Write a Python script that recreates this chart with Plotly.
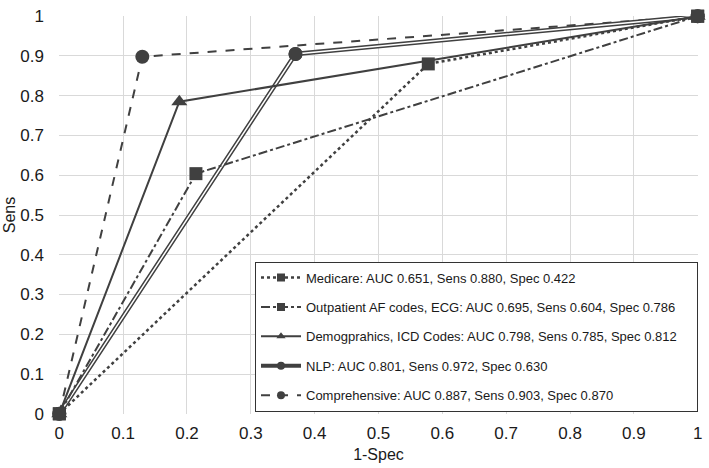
import plotly.graph_objects as go

# Data (1-Spec, Sens)
names = [
    "Medicare: AUC 0.651, Sens 0.880, Spec 0.422",
    "Outpatient AF codes, ECG: AUC 0.695, Sens 0.604, Spec 0.786",
    "Demogprahics, ICD Codes: AUC 0.798, Sens 0.785, Spec 0.812",
    "NLP: AUC 0.801, Sens 0.972, Spec 0.630",
    "Comprehensive: AUC 0.887, Sens 0.903, Spec 0.870",
]
medicare_x = [0, 0.578, 1]
medicare_y = [0, 0.880, 1]
outpt_x = [0, 0.214, 1]
outpt_y = [0, 0.604, 1]
demo_x = [0, 0.188, 1]
demo_y = [0, 0.785, 1]
nlp_x = [0, 0.370, 1]
nlp_y = [0, 0.905, 1]
comp_x = [0, 0.130, 1]
comp_y = [0, 0.898, 1]
ticks = [0, 0.1, 0.2, 0.3, 0.4, 0.5, 0.6, 0.7, 0.8, 0.9, 1]
tick_text = ["0", "0.1", "0.2", "0.3", "0.4", "0.5", "0.6", "0.7", "0.8", "0.9", "1"]

C = "#404040"
FONT = "Liberation Sans, Arial, sans-serif"
PAD = "\u00a0" * 4  # right padding inside the legend box
fig = go.Figure()

def plot(x, y, dash, symbol, width=2, msize=14, color=C, mode="lines+markers"):
    fig.add_trace(go.Scatter(
        x=x, y=y, mode=mode, showlegend=False,
        line=dict(color=color, width=width, dash=dash),
        marker=dict(symbol=symbol, size=msize, color=color),
        cliponaxis=False, hoverinfo="skip",
    ))

def legend_entry(name, dash, symbol, rank, width=2):
    fig.add_trace(go.Scatter(
        x=[None], y=[None], mode="lines+markers", name=name + PAD, legendrank=rank,
        legendgroup=name,
        line=dict(color=C, width=width, dash=dash),
        marker=dict(symbol=symbol, size=8, color=C),
    ))

plot(comp_x, comp_y, "dash", "circle")
plot(nlp_x, nlp_y, "solid", "circle", width=4.5)
plot(nlp_x, nlp_y, "solid", "circle", width=1.5, color="white", mode="lines")
plot([nlp_x[1]], [nlp_y[1]], "solid", "circle", mode="markers")
plot(demo_x, demo_y, "solid", "triangle-up")
plot(outpt_x, outpt_y, "dashdot", "square", msize=13)
plot(medicare_x, medicare_y, "dot", "square", width=2.5, msize=13)

legend_entry(names[0], "dot", "square", 1, width=2.5)
legend_entry(names[1], "dashdot", "square", 2)
legend_entry(names[2], "solid", "triangle-up", 3)
legend_entry(names[3], "solid", "circle", 4, width=4)
legend_entry(names[4], "dash", "circle", 5)

axis_common = dict(
    range=[-0.0005, 1.0005], tickvals=ticks, ticktext=tick_text,
    showgrid=True, gridcolor="#d9d9d9", gridwidth=1,
    zeroline=False, showline=False,
    tickfont=dict(family=FONT, size=17, color="#1a1a1a"),
    ticks="", ticklabeloverflow="allow",
)
fig.update_xaxes(**axis_common, ticklabelstandoff=7,
                 title=dict(text="1-Spec", font=dict(family=FONT, size=16, color="#1a1a1a"), standoff=6))
fig.update_yaxes(**axis_common, ticklabelstandoff=14,
                 title=dict(text="Sens", font=dict(family=FONT, size=16, color="#1a1a1a"), standoff=0))

fig.update_layout(
    width=709, height=468,
    margin=dict(l=59, r=8, t=7, b=54),
    plot_bgcolor="white", paper_bgcolor="white",
    legend=dict(
        x=1, xanchor="right", y=0.006, yanchor="bottom",
        bgcolor="white", bordercolor="#333", borderwidth=1,
        font=dict(family=FONT, size=13, color="#1a1a1a"),
        traceorder="grouped", tracegroupgap=9.5,
        itemwidth=40,
    ),
    showlegend=True,
)

fig.write_html("out.html", config={"displayModeBar": False},
               post_script="document.body.style.margin='0';document.body.style.overflow='hidden';")
